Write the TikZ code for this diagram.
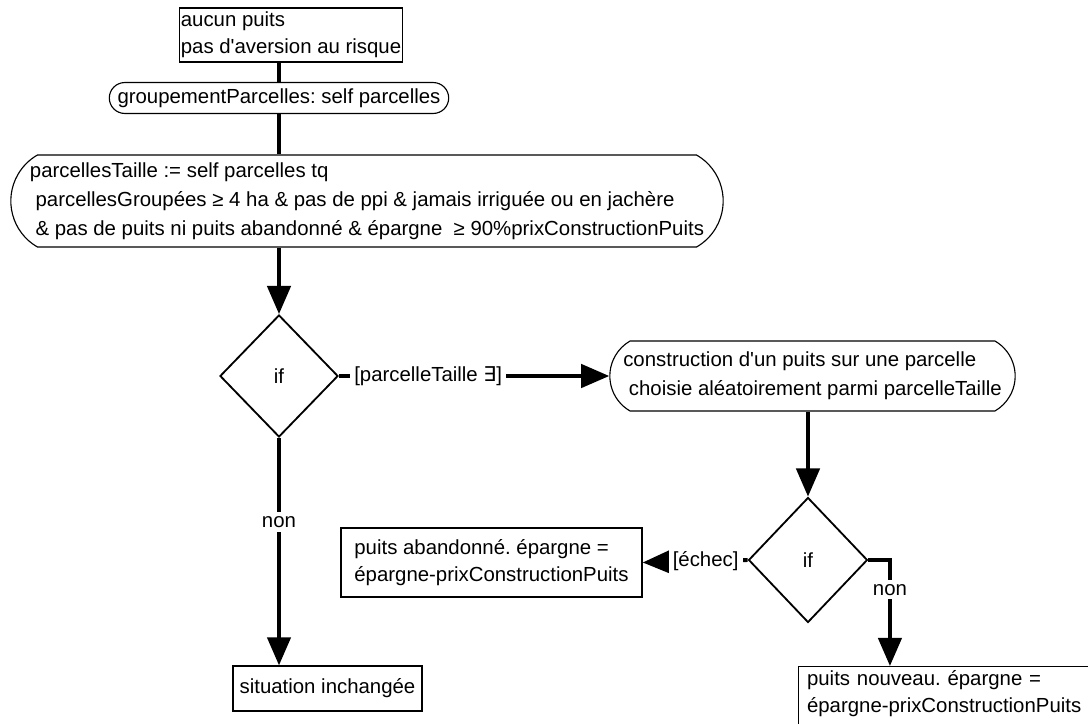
\documentclass[tikz,border=0pt]{standalone}
\usepackage{fontspec}
\setmainfont{Liberation Sans}
\newfontfamily\symbfont{DejaVu Sans}
\usetikzlibrary{shapes.geometric,shapes.misc,arrows.meta}

\tikzset{
  boite/.style={draw, line width=0.9pt, rectangle, align=left, inner sep=3pt},
  activite/.style={draw, line width=0.8pt, rounded rectangle, align=left, inner sep=2pt},
  choix/.style={draw, line width=1.3pt, diamond, inner sep=0pt},
  flux/.style={line width=2.8pt},
  fleche/.style={flux, -{Triangle[length=20pt,width=16.5pt]}},
  garde/.style={fill=white, inner sep=3pt},
}
\frenchspacing

\begin{document}
\begin{tikzpicture}[x=0.7113pt, y=-0.7113pt, font=\fontsize{14.5}{19}\selectfont]
  \useasboundingbox (0,0) rectangle (1088,724);

  % etats et activites
  \node[boite, minimum width=150pt, minimum height=38.4pt, inner xsep=1pt] (depart) at (291,35)
    {aucun puits\\pas d\textquotesingle aversion au risque};
  \node[activite, minimum width=245.4pt, minimum height=22pt] (groupe) at (279,98)
    {groupementParcelles: self parcelles};
  \node[activite, rounded rectangle arc length=120, minimum width=510.7pt, minimum height=65.4pt,
        font=\fontsize{14.5}{20.6}\selectfont] (taille) at (367,201)
    {parcellesTaille := self parcelles tq\\
     \ parcellesGroupées ≥ 4 ha \& pas de ppi \& jamais irriguée ou en jachère\\
     \ \& pas de puits ni puits abandonné \& épargne \ ≥ 90\%prixConstructionPuits};
  \node[choix, minimum width=84pt, minimum height=86.8pt] (if1) at (279,376) {if};
  \node[activite, rounded rectangle arc length=120, minimum width=292.3pt, minimum height=49.8pt,
        font=\fontsize{14.5}{20.6}\selectfont] (constr) at (812.5,376)
    {construction d\textquotesingle un puits sur une parcelle\\
     \ choisie aléatoirement parmi parcelleTaille};
  \node[choix, minimum width=84.6pt, minimum height=88.9pt] (if2) at (808,560) {if};
  \node[boite, minimum width=214.1pt, minimum height=49.1pt] (abandon) at (491.5,562.5)
    {puits abandonné. épargne =\\épargne-prixConstructionPuits};
  \node[boite, minimum width=134.4pt, minimum height=32pt] (inchange) at (327.5,688.5)
    {situation inchangée};
  \node[boite, anchor=north west, text width=300pt, text depth=30pt, inner xsep=6pt] (nouveau) at (798,666)
    {puits nouveau. épargne =\\épargne-prixConstructionPuits};

  % transitions
  \draw[flux] (depart.south -| if1) -- (groupe.north -| if1);
  \draw[flux] (groupe.south -| if1) -- (taille.north -| if1);
  \draw[fleche] (taille.south -| if1) -- (if1.north);
  \draw[fleche] (if1.east) -- node[garde, pos=0.33] {[parcelleTaille {\symbfont ∃}]} (constr.west);
  \draw[fleche] (if1.south) -- node[garde, pos=0.37] {non} (inchange.north -| if1);
  \draw[fleche] (constr.south -| if2) -- (if2.north);
  \draw[fleche] (if2.west) -- node[garde, pos=0.4] {[échec]} (abandon.east);
  \draw[fleche] (if2.east) -| node[garde, pos=0.64] {non} ([xshift=65.4pt]nouveau.north west);
\end{tikzpicture}
\end{document}
